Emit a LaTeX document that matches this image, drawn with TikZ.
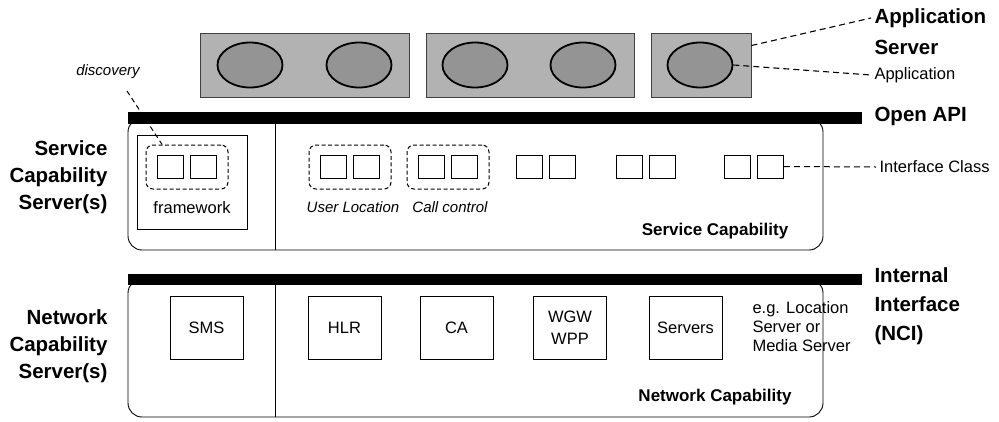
\documentclass[tikz,border=0pt]{standalone}
\usepackage{fontspec}
\setmainfont{Liberation Sans}
\usetikzlibrary{shapes.geometric,calc}
\begin{document}
\begin{tikzpicture}[x=1pt,y=-1pt,
  appbox/.style={draw=black!75, line width=0.9pt, fill=black!30, inner sep=0pt, minimum height=64pt},
  app/.style={ellipse, draw, line width=1.8pt, fill=black!42, minimum width=65pt, minimum height=45pt, inner sep=0pt},
  apibar/.style={fill=black, inner sep=0pt, minimum width=734pt},
  layer/.style={draw, line width=0.9pt, rounded corners=14pt, minimum width=695pt, inner sep=0pt},
  dashbox/.style={draw, dash pattern=on 4pt off 2.5pt, rounded corners=7pt, line width=1pt, minimum width=82pt, minimum height=44pt, inner sep=0pt},
  iface/.style={draw, line width=0.9pt, minimum width=26pt, minimum height=23pt, inner sep=0pt},
  ncbox/.style={draw, line width=0.9pt, minimum width=73pt, minimum height=63pt, inner sep=0pt, align=center, font=\fontsize{16.5}{22}\selectfont},
  small/.style={font=\fontsize{16.5}{18}\selectfont},
  smallit/.style={font=\fontsize{15}{18}\selectfont\itshape},
  big/.style={font=\fontsize{20.5}{27}\selectfont\bfseries},
  bigwide/.style={font=\fontsize{20.5}{29}\selectfont\bfseries},
  midbold/.style={font=\fontsize{17}{20}\selectfont\bfseries},
  lead/.style={dash pattern=on 6pt off 4pt, line width=1.1pt}]
\useasboundingbox (0,0) rectangle (999,421);

% application servers with their applications
\node[appbox, minimum width=209pt] (srv1) at (304.5,65) {};
\node[appbox, minimum width=208pt] (srv2) at (530,65) {};
\node[appbox, minimum width=100pt] (srv3) at (701,65) {};
\node[app] (app1) at (250,65) {};
\node[app] (app2) at (359,65) {};
\node[app] (app3) at (475,65) {};
\node[app] (app4) at (583,65) {};
\node[app] (app5) at (700,65) {};

% service capability layer
\node[layer, minimum height=132pt] (scs) at (475.5,184) {};
\node[apibar, minimum height=12pt] (openapi) at (495,118) {};
\coordinate (split) at (275,0);
\draw[line width=0.9pt] (openapi.south -| split) -- (scs.south -| split);

\node[draw, line width=0.9pt, minimum width=110pt, minimum height=94pt, inner sep=0pt] (fwbox) at (192,182) {};
\node[dashbox] (fwd) at (187,167) {};
\node[dashbox] (uld) at (350,167) {};
\node[dashbox] (ccd) at (448,167) {};
\foreach \n/\cx in {fw/187,ul/350,cc/448,p1/546,p2/646,p3/754}{
  \node[iface] (\n a) at (\cx-16.5,166.5) {};
  \node[iface] (\n b) at (\cx+16.5,166.5) {};
}
\node[small] (fwtext) at (192,208) {framework};
\node[smallit] (ultext) at (353,207) {User Location};
\node[smallit] (cctext) at (450,207) {Call control};
\node[smallit] (disc) at (108,72) {discovery};
\draw[lead, line width=1pt, dash pattern=on 5pt off 3.5pt] (127,91) -- ($(fwd.north west)!0.2!(fwd.north east)$);
\node[midbold] (sclabel) at (715,231) {Service Capability};

\node[small, anchor=west] (ic) at (876,167) {Interface Class};
\draw[lead, line width=1pt] (p3b.east) -- (ic.west);

% network capability layer
\node[layer, minimum height=138pt] (ncs) at (475.5,348) {};
\node[apibar, minimum height=11pt] (nci) at (495,279.5) {};
\draw[line width=0.9pt] (nci.south -| split) -- (ncs.south -| split);
\node[ncbox] (sms) at (206.5,328) {SMS};
\node[ncbox] (hlr) at (344.5,328) {HLR};
\node[ncbox] (ca) at (456.5,328) {CA};
\node[ncbox] (wgw) at (570,328) {WGW\\WPP};
\node[ncbox] (servers) at (685.5,328) {Servers};
\node[anchor=west, align=left, font=\fontsize{16.5}{19}\selectfont] (eg) at (749,327) {e.g. Location\\Server or\\Media Server};
\node[midbold] (nclabel) at (715,397) {Network Capability};

% layer labels
\node[big, align=right, anchor=east] (scslabel) at (111,177) {Service\\Capability\\Server(s)};
\node[big, align=right, anchor=east] (ncslabel) at (111,346) {Network\\Capability\\Server(s)};

\node[big, anchor=west] (as1) at (871,18) {Application};
\node[big, anchor=west] (as2) at (871,47) {Server};
\node[small, anchor=west] (appl) at (871,75) {Application};
\node[big, anchor=west] (apilabel) at (871,116) {Open API};
\node[bigwide, anchor=west, align=left] (ncilabel) at (871,306) {Internal\\Interface\\(NCI)};

\draw[lead] ($(srv3.north east)!0.2!(srv3.south east)$) -- (as1.west);
\draw[lead] (app5.east) -- (appl.west);
\end{tikzpicture}
\end{document}
